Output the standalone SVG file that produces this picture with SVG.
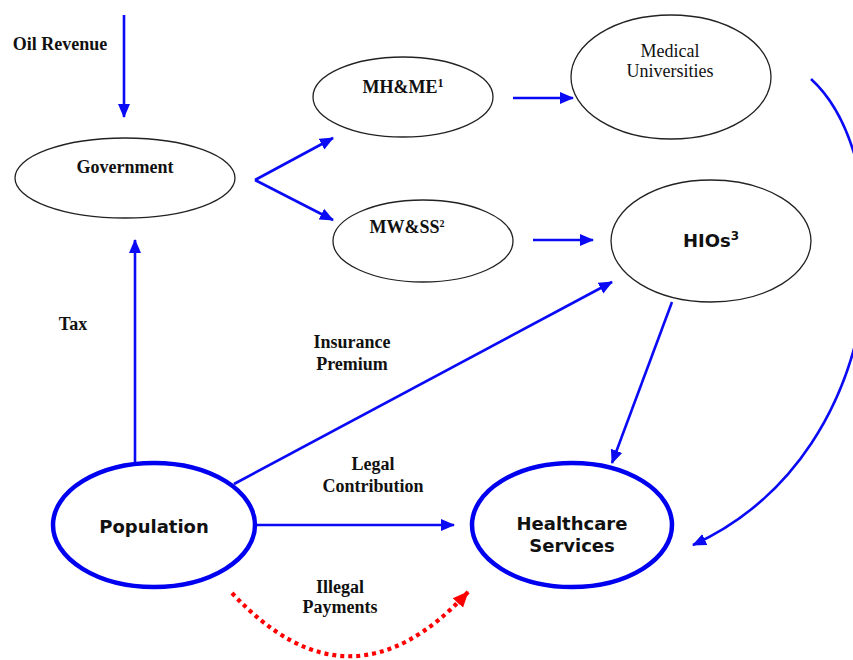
<svg xmlns="http://www.w3.org/2000/svg" width="853" height="660" viewBox="0 0 853 660">
<style>
.thin{fill:#fff;stroke:#222;stroke-width:1.3}
.thick{fill:#fff;stroke:#0000f0;stroke-width:4.5}
.ln{fill:none;stroke:#0a0af5;stroke-width:2.6}
.red{fill:none;stroke:#f00;stroke-width:4.2;stroke-dasharray:4 4}
.lb{font-family:"Liberation Serif",serif;font-weight:bold;font-size:18px;fill:#111;text-anchor:middle}
.lr{font-family:"Liberation Serif",serif;font-size:18px;fill:#111;text-anchor:middle}
.ls{font-family:"DejaVu Sans",sans-serif;font-weight:bold;font-size:18px;fill:#111;text-anchor:middle}
</style>
<defs>
<marker id="ab" markerUnits="userSpaceOnUse" markerWidth="14" markerHeight="14" viewBox="0 0 14 14" refX="13" refY="7" orient="auto"><path d="M0,1 L14,7 L0,13 Z" fill="#0a0af5"/></marker>
<marker id="ar" markerUnits="userSpaceOnUse" markerWidth="16" markerHeight="16" viewBox="0 0 16 16" refX="15" refY="8" orient="auto"><path d="M0,1 L16,8 L0,15 Z" fill="#f00"/></marker>
</defs>
<g id="connectors">
<path class="ln" d="M124,15 V117" marker-end="url(#ab)"/>
<path class="ln" d="M255,180 L333,138" marker-end="url(#ab)"/>
<path class="ln" d="M255,180 L333,220" marker-end="url(#ab)"/>
<path class="ln" d="M513,98 H573" marker-end="url(#ab)"/>
<path class="ln" d="M533,240 H593" marker-end="url(#ab)"/>
<path class="ln" d="M811,79 C900,160 900,450 693,545" marker-end="url(#ab)"/>
<path class="ln" d="M672,302 L612,463" marker-end="url(#ab)"/>
<path class="ln" d="M234,484 L612,282" marker-end="url(#ab)"/>
<path class="ln" d="M135,463 V240" marker-end="url(#ab)"/>
<path class="ln" d="M256,525 H454" marker-end="url(#ab)"/>
<path class="red" d="M232,593 Q350,720 468,592" marker-end="url(#ar)"/>
<text class="lb" x="60" y="50">Oil Revenue</text>
<text class="lb" x="73" y="330">Tax</text>
<text class="lb" x="352" y="348">Insurance</text>
<text class="lb" x="352" y="370">Premium</text>
<text class="lb" x="373" y="470">Legal</text>
<text class="lb" x="373" y="492">Contribution</text>
<text class="lb" x="340" y="593">Illegal</text>
<text class="lb" x="340" y="613">Payments</text>
</g>
<g id="government">
<ellipse class="thin" cx="125" cy="178" rx="110" ry="40"/>
<text class="lb" x="125" y="173">Government</text>
</g>
<g id="mhme">
<ellipse class="thin" cx="403" cy="97" rx="90" ry="40"/>
<text class="lb" x="403" y="93">MH&amp;ME<tspan font-size="12" dy="-6">1</tspan></text>
</g>
<g id="mwss">
<ellipse class="thin" cx="423" cy="241" rx="90" ry="41"/>
<text class="lb" x="407" y="233">MW&amp;SS<tspan font-size="10" dy="-6">2</tspan></text>
</g>
<g id="meduni">
<ellipse class="thin" cx="671" cy="77" rx="100" ry="62"/>
<text class="lr" x="670" y="57">Medical</text>
<text class="lr" x="670" y="77">Universities</text>
</g>
<g id="hios">
<ellipse class="thin" cx="711" cy="241" rx="100" ry="61"/>
<text class="ls" x="711" y="247" font-size="17">HIOs<tspan font-size="12" dy="-7">3</tspan></text>
</g>
<g id="population">
<ellipse class="thick" cx="154" cy="525" rx="101" ry="62"/>
<text class="ls" x="154" y="533">Population</text>
</g>
<g id="healthcare">
<ellipse class="thick" cx="572" cy="525" rx="100" ry="62"/>
<text class="ls" x="572" y="530">Healthcare</text>
<text class="ls" x="572" y="552">Services</text>
</g>
</svg>
